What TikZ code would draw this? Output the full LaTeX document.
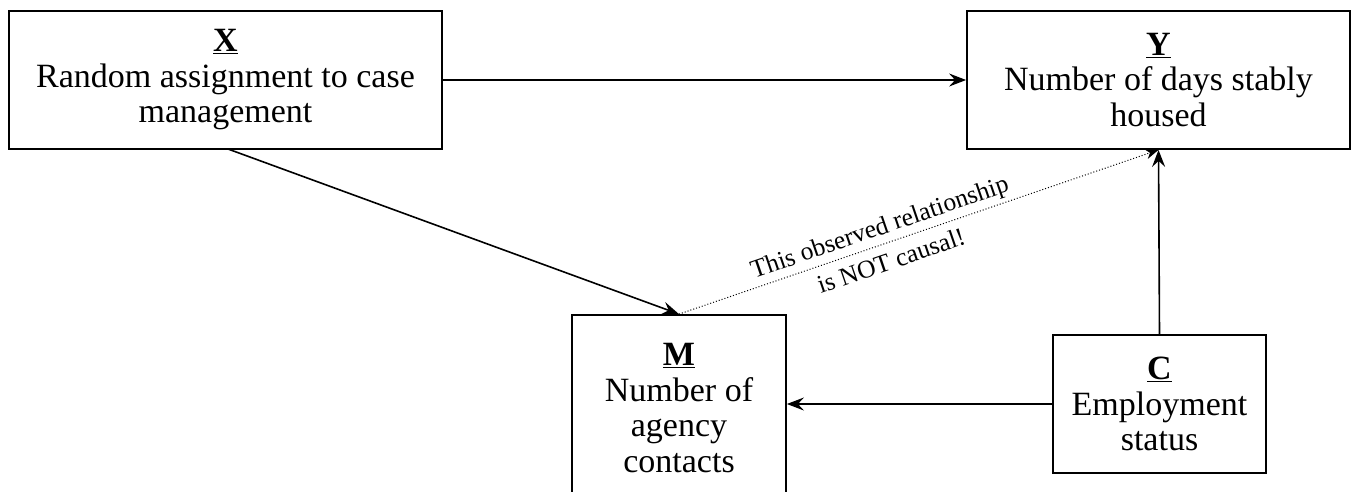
\documentclass[tikz,border=0pt]{standalone}
\usepackage{fontspec}
\setmainfont{Liberation Serif}
\usetikzlibrary{arrows.meta}
\begin{document}
\begin{tikzpicture}[x=1pt,y=-1pt,
  box/.style={draw, line width=1.8pt, align=center, inner sep=0pt,
    font=\fontsize{34}{35.5}\selectfont},
  conn/.style={line width=1.6pt, -{Stealth[length=17pt,width=13pt,inset=6pt]}},
  lbl/.style={font=\fontsize{25.5}{36}\selectfont, align=center}]
\useasboundingbox (0,0) rectangle (1357,491);
\clip (0,0) rectangle (1357,491);
\node[box, minimum width=433pt, minimum height=138pt] (X) at (225.5,80)
  {\textbf{\underline{X}}\\Random assignment to case\\management};
\node[box, minimum width=383pt, minimum height=138pt] (Y) at (1158.5,80)
  {\textbf{\underline{Y}}\\Number of days stably\\housed};
\node[box, minimum width=214pt, minimum height=186pt] (M) at (679,408)
  {\textbf{\underline{M}}\\Number of\\agency\\contacts};
\node[box, minimum width=213pt, minimum height=138pt] (C) at (1159.5,404)
  {\textbf{\underline{C}}\\Employment\\status};
\draw[conn] (X.east) -- (Y.west);
\draw[conn] (228,149) -- (M.north);
\draw[conn] (C.north) -- (Y.south);
\draw[conn] (C.west) -- (C.west -| M.east);
\draw[line width=1pt, dotted, -{Stealth[length=13pt,width=10pt,inset=4pt]}]
  (M.north) -- node[lbl, sloped, pos=0.43] {This observed relationship\\is NOT causal!} (Y.south);
\end{tikzpicture}
\end{document}
